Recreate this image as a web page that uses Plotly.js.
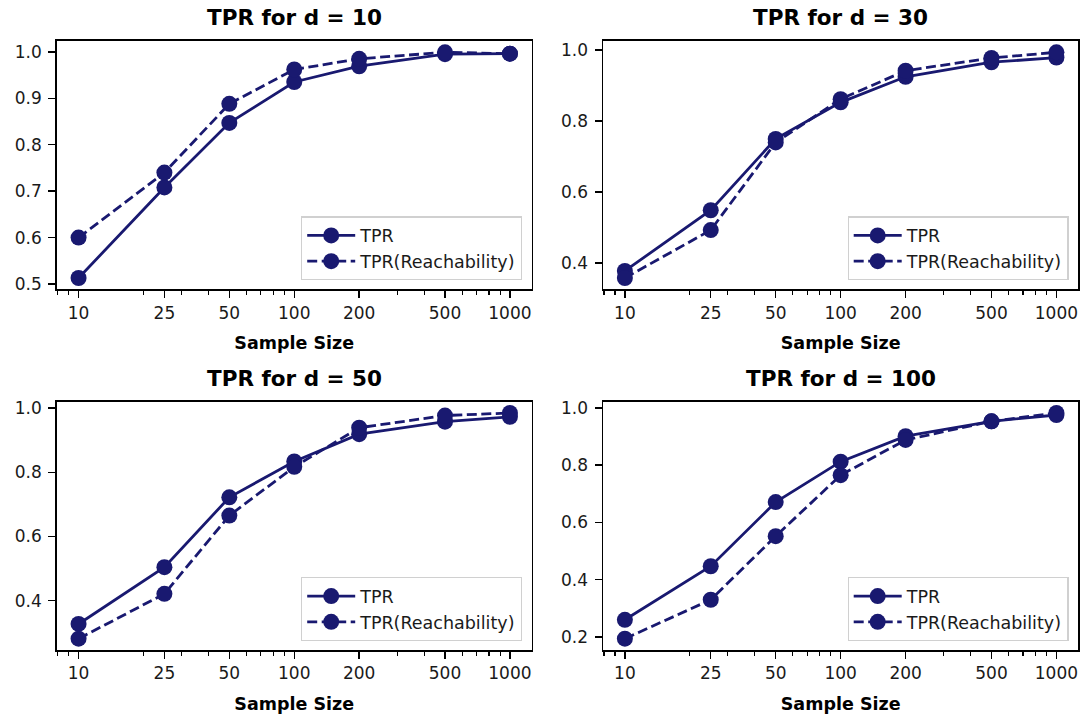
<!DOCTYPE html>
<html>
<head>
<meta charset="utf-8">
<script src="https://cdn.plot.ly/plotly-3.0.1.min.js"></script>
<style>html,body{margin:0;padding:0;background:#fff;}#chart{width:1081px;height:715px;}</style>
</head>
<body>
<div id="chart"></div>
<script>
// ---- data ----
const sampleSizes = [10, 25, 50, 100, 200, 500, 1000];
const xTickLabels = ['10', '25', '50', '100', '200', '500', '1000'];
const minorTicks = [8, 9, 20, 30, 40, 60, 70, 80, 90, 300, 400, 600, 700, 800, 900];
const panelTitles = ['TPR for d = 10', 'TPR for d = 30', 'TPR for d = 50', 'TPR for d = 100'];
const seriesNames = ['TPR', 'TPR(Reachability)'];

const tpr_d10   = [0.513, 0.708, 0.847, 0.935, 0.969, 0.995, 0.996];
const reach_d10 = [0.600, 0.740, 0.888, 0.962, 0.985, 0.999, 0.996];
const tpr_d30   = [0.378, 0.549, 0.750, 0.853, 0.925, 0.966, 0.979];
const reach_d30 = [0.358, 0.493, 0.740, 0.862, 0.942, 0.978, 0.994];
const tpr_d50   = [0.327, 0.504, 0.722, 0.834, 0.919, 0.958, 0.973];
const reach_d50 = [0.281, 0.421, 0.665, 0.817, 0.939, 0.977, 0.985];
const tpr_d100   = [0.260, 0.447, 0.671, 0.812, 0.901, 0.953, 0.975];
const reach_d100 = [0.194, 0.330, 0.552, 0.765, 0.888, 0.953, 0.982];

const tprSeries = [tpr_d10, tpr_d30, tpr_d50, tpr_d100];
const reachSeries = [reach_d10, reach_d30, reach_d50, reach_d100];
const yDticks = [0.1, 0.2, 0.2, 0.2];

// ---- layout geometry (pixels) ----
const W = 1081, H = 715;
const colsPx = [[57, 531.5], [603.3, 1078]];
const rowsPx = [[41, 289.3], [401.7, 650]];
const color = '#191970';
const font = 'DejaVu Sans, sans-serif';

const traces = [];
const layout = {
  width: W, height: H,
  margin: {l: 0, r: 0, t: 0, b: 0},
  paper_bgcolor: '#ffffff', plot_bgcolor: '#ffffff',
  font: {family: font, color: '#000000', size: 16},
  annotations: [],
  showlegend: true
};

for (let i = 0; i < 4; i++) {
  const r = Math.floor(i / 2), c = i % 2;
  const ax = i === 0 ? '' : String(i + 1);
  const xa = 'x' + ax, ya = 'y' + ax;
  const lg = i === 0 ? 'legend' : 'legend' + (i + 1);
  const xd = [colsPx[c][0] / W, colsPx[c][1] / W];
  const yd = [1 - rowsPx[r][1] / H, 1 - rowsPx[r][0] / H];

  const all = tprSeries[i].concat(reachSeries[i]);
  const mn = Math.min(...all), mx = Math.max(...all);
  const pad = (mx - mn) * 0.05;

  traces.push({
    x: sampleSizes, y: tprSeries[i], name: seriesNames[0],
    type: 'scatter', mode: 'lines+markers', xaxis: xa, yaxis: ya, legend: lg,
    line: {color: color, width: 2.8}, marker: {color: color, size: 16},
    hoverinfo: 'skip'
  });
  traces.push({
    x: sampleSizes, y: reachSeries[i], name: seriesNames[1],
    type: 'scatter', mode: 'lines+markers', xaxis: xa, yaxis: ya, legend: lg,
    line: {color: color, width: 2.8, dash: '10px,4.5px'}, marker: {color: color, size: 16},
    hoverinfo: 'skip'
  });

  layout['xaxis' + ax] = {
    domain: xd, anchor: ya, type: 'log', range: [0.9, 3.1],
    tickmode: 'array', tickvals: sampleSizes, ticktext: xTickLabels,
    ticks: 'outside', ticklen: 7, tickwidth: 1.4, tickcolor: '#000',
    minor: {tickmode: 'array', tickvals: minorTicks, ticks: 'outside', ticklen: 4, tickwidth: 1.1, tickcolor: '#000', showgrid: false},
    showline: true, linecolor: '#000', linewidth: 1.8, mirror: true,
    showgrid: false, zeroline: false, automargin: false,
    tickfont: {family: font, size: 17, color: '#1a1a1a'},
    title: {text: 'Sample Size', font: {family: font, size: 17.5, weight: 'bold', color: '#000'}, standoff: 15}
  };
  layout['yaxis' + ax] = {
    domain: yd, anchor: xa, range: [mn - pad, mx + pad],
    dtick: yDticks[i], tick0: 0, tickformat: '.1f',
    ticks: 'outside', ticklen: 7, tickwidth: 1.4, tickcolor: '#000',
    showline: true, linecolor: '#000', linewidth: 1.8, mirror: true,
    showgrid: false, zeroline: false, automargin: false,
    ticklabelstandoff: 3,
    tickfont: {family: font, size: 17, color: '#1a1a1a'}
  };
  layout[lg] = {
    x: (colsPx[c][1] - 9.5) / W, y: 1 - (rowsPx[r][1] - 9) / H,
    xanchor: 'right', yanchor: 'bottom', xref: 'paper', yref: 'paper',
    bgcolor: 'rgba(255,255,255,0.85)', bordercolor: '#d0d0d0', borderwidth: 1.2,
    font: {family: font, size: 17.5, color: '#1a1a1a'},
    itemwidth: 48, tracegroupgap: 0
  };
  layout.annotations.push({
    text: '<b>' + panelTitles[i] + '</b>', xref: 'paper', yref: 'paper',
    x: (colsPx[c][0] + colsPx[c][1]) / 2 / W, y: 1 - (rowsPx[r][0] - 23) / H,
    xanchor: 'center', yanchor: 'middle', showarrow: false,
    font: {family: font, size: 21.5, color: '#000'}
  });
}

Plotly.newPlot('chart', traces, layout, {displayModeBar: false, staticPlot: true});
</script>
</body>
</html>
